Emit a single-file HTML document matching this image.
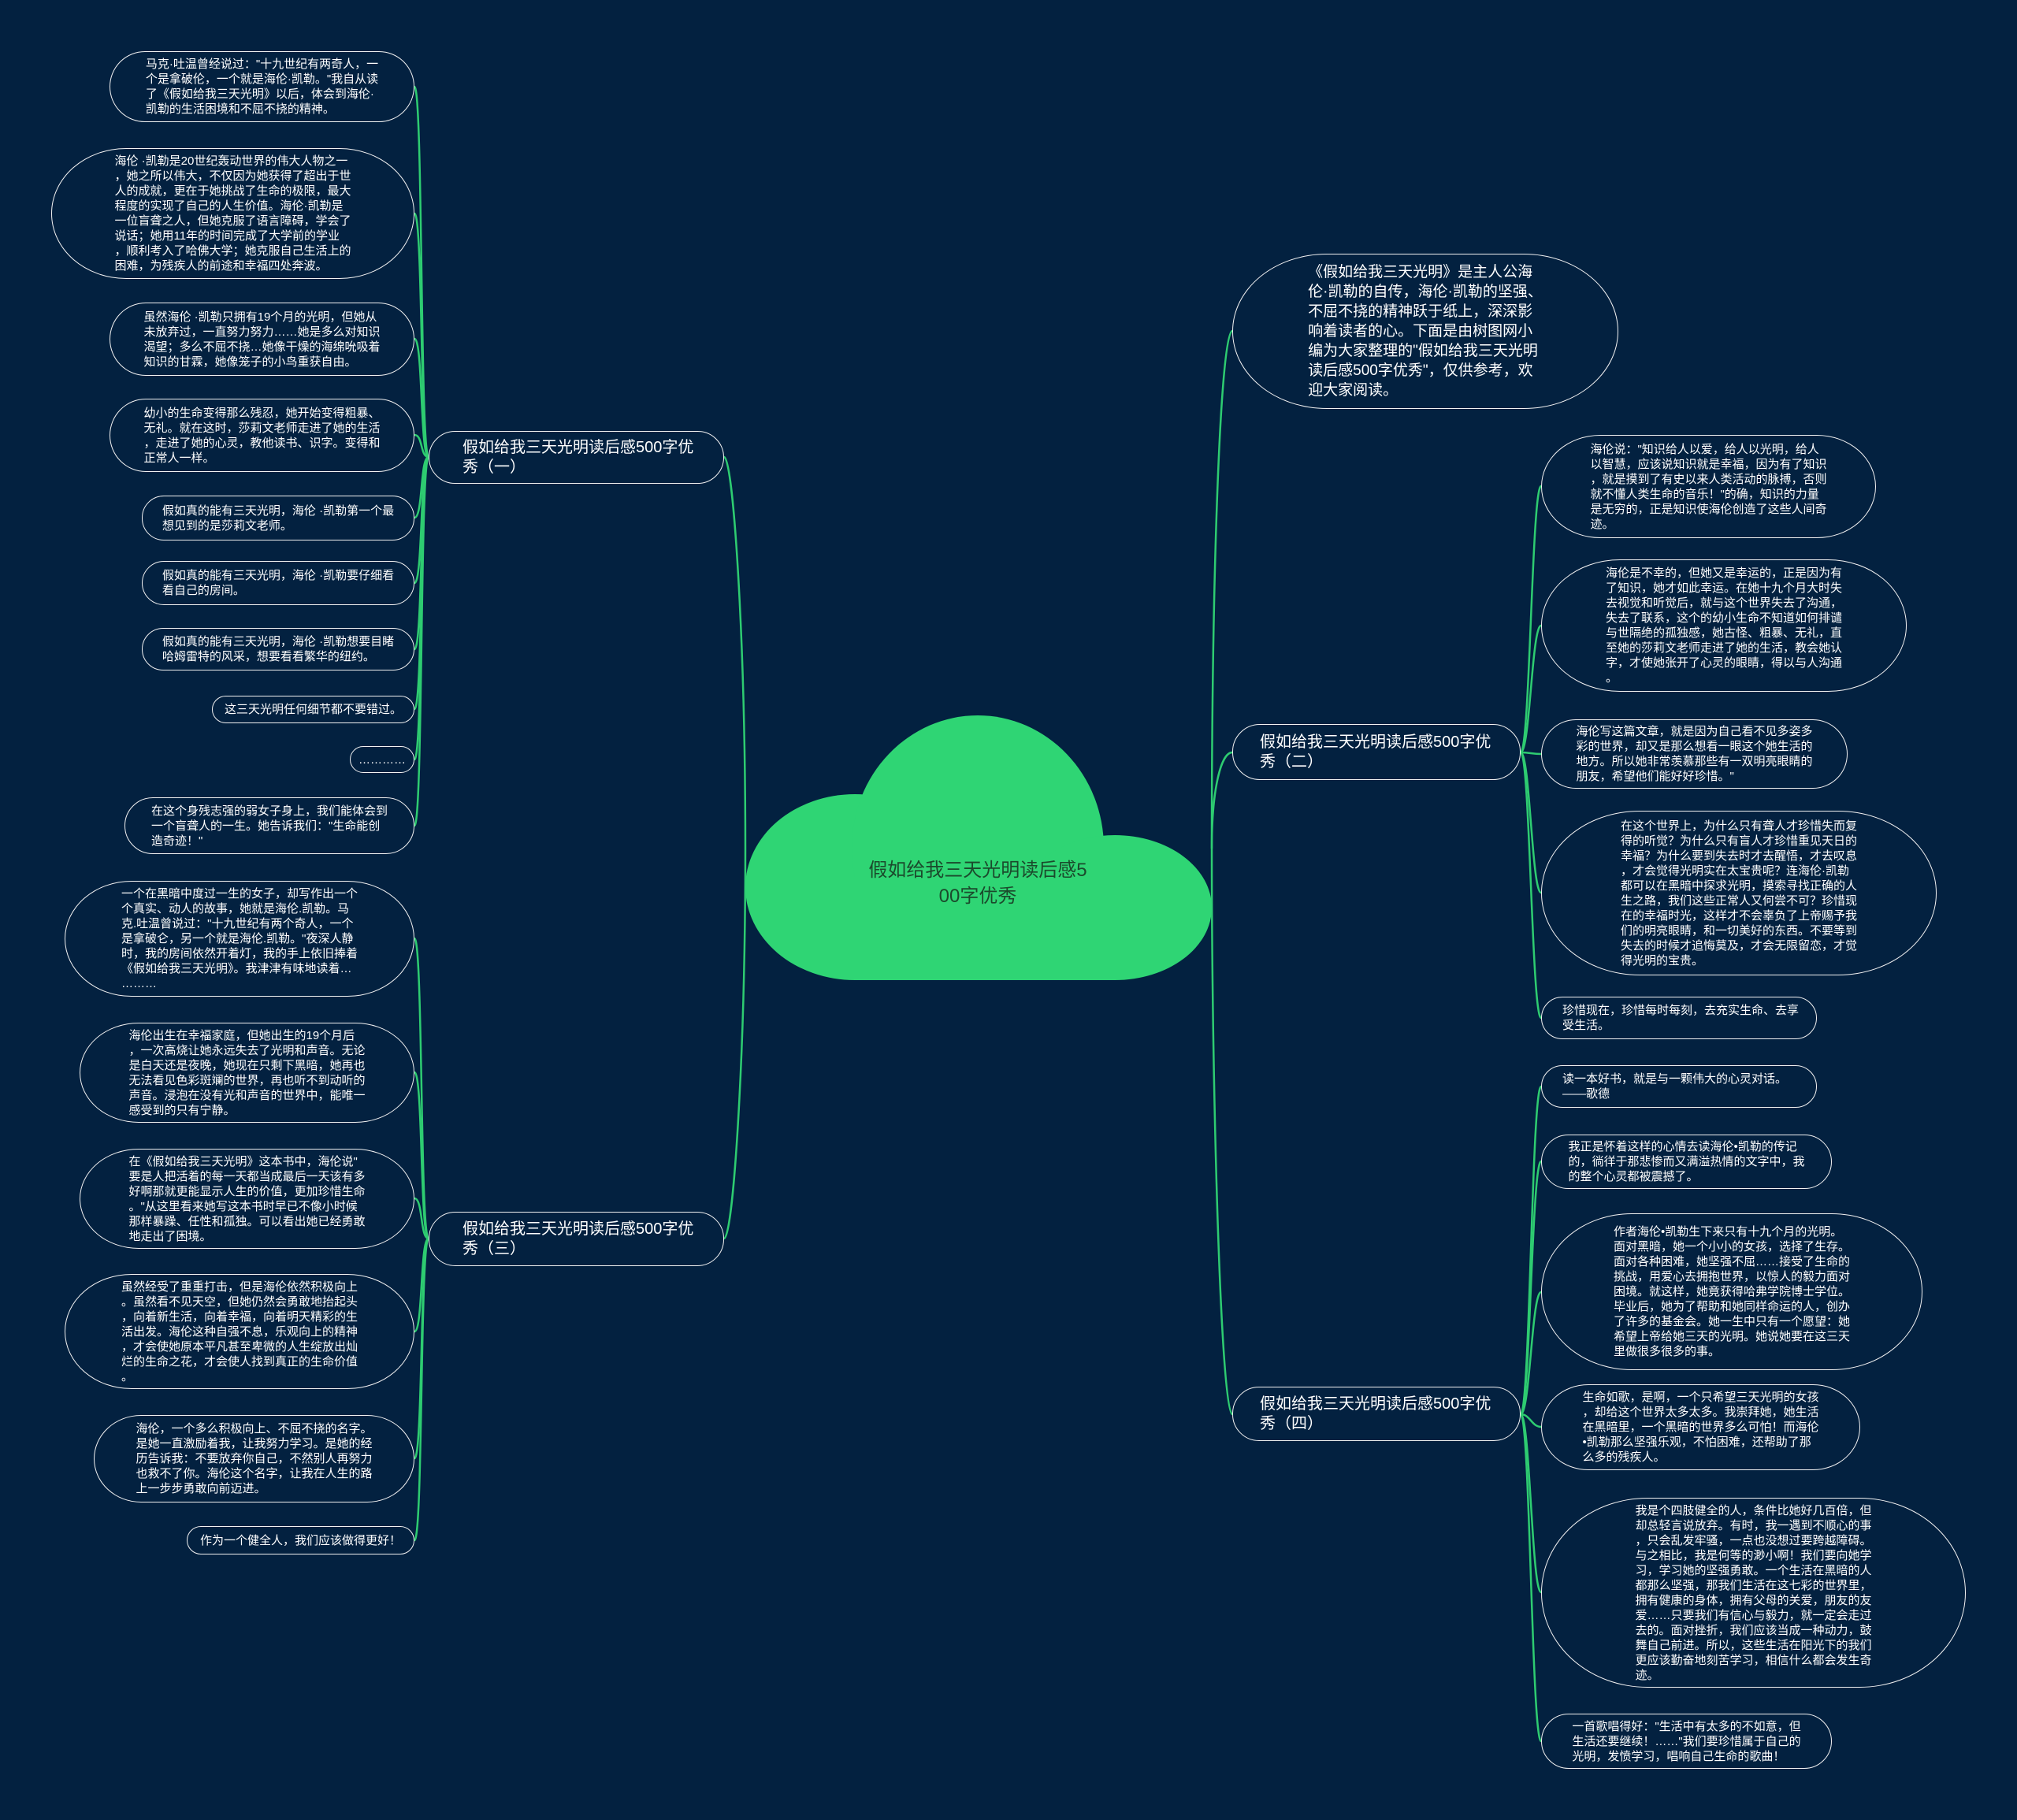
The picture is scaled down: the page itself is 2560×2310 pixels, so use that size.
<!DOCTYPE html>
<html><head><meta charset="utf-8"><style>
html,body{margin:0;padding:0}
body{width:2560px;height:2310px;background:#032140;position:relative;overflow:hidden;font-family:"Liberation Sans","Noto Sans CJK SC",sans-serif}
.n{position:absolute;box-sizing:border-box;border:1.5px solid #f2f2f2;display:flex;align-items:center;justify-content:center;color:#fff;background:#032140}
.n span{display:block;white-space:nowrap;text-align:left}
.l{font-size:15px;line-height:19px}
.b{font-size:20px;line-height:25px}
.i{font-size:19px;line-height:25px}
svg{position:absolute;left:0;top:0}
</style></head><body>
<svg width="2560" height="2310" viewBox="0 0 2560 2310">
<g fill="none" stroke="#2ecc71" stroke-width="2.5">
<path d="M946 1077 C946 800 930 580 919 580"/>
<path d="M946 1077 C946 1350 930 1572 919 1572"/>
<path d="M1538 1077 C1538 700 1550 420 1564 420"/>
<path d="M1538 1077 C1538 1000 1550 955 1564 955"/>
<path d="M1538 1077 C1538 1400 1550 1795 1564 1795"/>
<path d="M544 580 C533 580 537 110 526 110"/>
<path d="M544 580 C533 580 537 271 526 271"/>
<path d="M544 580 C533 580 537 430 526 430"/>
<path d="M544 580 C533 580 537 552 526 552"/>
<path d="M544 580 C533 580 537 657 526 657"/>
<path d="M544 580 C533 580 537 740 526 740"/>
<path d="M544 580 C533 580 537 824 526 824"/>
<path d="M544 580 C533 580 537 900 526 900"/>
<path d="M544 580 C533 580 537 964 526 964"/>
<path d="M544 580 C533 580 537 1048 526 1048"/>
<path d="M544 1572 C533 1572 537 1191 526 1191"/>
<path d="M544 1572 C533 1572 537 1361 526 1361"/>
<path d="M544 1572 C533 1572 537 1521 526 1521"/>
<path d="M544 1572 C533 1572 537 1690 526 1690"/>
<path d="M544 1572 C533 1572 537 1851 526 1851"/>
<path d="M544 1572 C533 1572 537 1955 526 1955"/>
<path d="M1930 955 C1942 955 1944 617 1956 617"/>
<path d="M1930 955 C1942 955 1944 794 1956 794"/>
<path d="M1930 955 C1942 955 1944 957 1956 957"/>
<path d="M1930 955 C1942 955 1944 1133 1956 1133"/>
<path d="M1930 955 C1942 955 1944 1292 1956 1292"/>
<path d="M1930 1795 C1942 1795 1944 1379 1956 1379"/>
<path d="M1930 1795 C1942 1795 1944 1474 1956 1474"/>
<path d="M1930 1795 C1942 1795 1944 1640 1956 1640"/>
<path d="M1930 1795 C1942 1795 1944 1811 1956 1811"/>
<path d="M1930 1795 C1942 1795 1944 2021 1956 2021"/>
<path d="M1930 1795 C1942 1795 1944 2210 1956 2210"/>
</g>
<g fill="#2fd574" stroke="none">
<ellipse cx="1085" cy="1126" rx="139" ry="118"/>
<ellipse cx="1241" cy="1076" rx="160" ry="168"/>
<ellipse cx="1415" cy="1152" rx="123" ry="92"/>
<rect x="1085" y="1100" width="330" height="144"/>
</g>
<text x="1241" y="1112" text-anchor="middle" font-size="24" fill="#1b4a2c" font-family="Liberation Sans, Noto Sans CJK SC, sans-serif">假如给我三天光明读后感5</text>
<text x="1241" y="1145" text-anchor="middle" font-size="24" fill="#1b4a2c" font-family="Liberation Sans, Noto Sans CJK SC, sans-serif">00字优秀</text>
</svg>

<div class="n b" style="left:544px;top:547px;width:375px;height:67px;border-radius:34px;justify-content:flex-start;padding-left:42px"><span>假如给我三天光明读后感500字优<br>秀（一）</span></div>
<div class="n l" style="left:139px;top:65px;width:387px;height:90px;border-radius:45px/50%"><span>马克·吐温曾经说过："十九世纪有两奇人，一<br>个是拿破伦，一个就是海伦·凯勒。"我自从读<br>了《假如给我三天光明》以后，体会到海伦·<br>凯勒的生活困境和不屈不挠的精神。</span></div>
<div class="n l" style="left:65px;top:188px;width:461px;height:166px;border-radius:95px/50%"><span>海伦 ·凯勒是20世纪轰动世界的伟大人物之一<br>，她之所以伟大，不仅因为她获得了超出于世<br>人的成就，更在于她挑战了生命的极限，最大<br>程度的实现了自己的人生价值。海伦·凯勒是<br>一位盲聋之人，但她克服了语言障碍，学会了<br>说话；她用11年的时间完成了大学前的学业<br>，顺利考入了哈佛大学；她克服自己生活上的<br>困难，为残疾人的前途和幸福四处奔波。</span></div>
<div class="n l" style="left:139px;top:384px;width:387px;height:93px;border-radius:46px/50%"><span>虽然海伦 ·凯勒只拥有19个月的光明，但她从<br>未放弃过，一直努力努力……她是多么对知识<br>渴望；多么不屈不挠…她像干燥的海绵吮吸着<br>知识的甘霖，她像笼子的小鸟重获自由。</span></div>
<div class="n l" style="left:139px;top:506px;width:387px;height:93px;border-radius:46px/50%"><span>幼小的生命变得那么残忍，她开始变得粗暴、<br>无礼。就在这时，莎莉文老师走进了她的生活<br>，走进了她的心灵，教他读书、识字。变得和<br>正常人一样。</span></div>
<div class="n l" style="left:180px;top:629px;width:346px;height:57px;border-radius:28px"><span>假如真的能有三天光明，海伦 ·凯勒第一个最<br>想见到的是莎莉文老师。</span></div>
<div class="n l" style="left:180px;top:712px;width:346px;height:56px;border-radius:28px"><span>假如真的能有三天光明，海伦 ·凯勒要仔细看<br>看自己的房间。</span></div>
<div class="n l" style="left:180px;top:797px;width:346px;height:54px;border-radius:27px"><span>假如真的能有三天光明，海伦 ·凯勒想要目睹<br>哈姆雷特的风采，想要看看繁华的纽约。</span></div>
<div class="n l" style="left:269px;top:883px;width:257px;height:35px;border-radius:18px"><span>这三天光明任何细节都不要错过。</span></div>
<div class="n l" style="left:444px;top:947px;width:82px;height:34px;border-radius:17px"><span>…………</span></div>
<div class="n l" style="left:158px;top:1012px;width:368px;height:72px;border-radius:36px/50%"><span>在这个身残志强的弱女子身上，我们能体会到<br>一个盲聋人的一生。她告诉我们："生命能创<br>造奇迹！"</span></div>

<div class="n b" style="left:544px;top:1538px;width:375px;height:69px;border-radius:34px;justify-content:flex-start;padding-left:42px"><span>假如给我三天光明读后感500字优<br>秀（三）</span></div>
<div class="n l" style="left:82px;top:1118px;width:444px;height:147px;border-radius:85px/50%"><span>一个在黑暗中度过一生的女子，却写作出一个<br>个真实、动人的故事，她就是海伦.凯勒。马<br>克.吐温曾说过："十九世纪有两个奇人，一个<br>是拿破仑，另一个就是海伦.凯勒。"夜深人静<br>时，我的房间依然开着灯，我的手上依旧捧着<br>《假如给我三天光明》。我津津有味地读着…<br>………</span></div>
<div class="n l" style="left:101px;top:1298px;width:425px;height:127px;border-radius:75px/50%"><span>海伦出生在幸福家庭，但她出生的19个月后<br>，一次高烧让她永远失去了光明和声音。无论<br>是白天还是夜晚，她现在只剩下黑暗，她再也<br>无法看见色彩斑斓的世界，再也听不到动听的<br>声音。浸泡在没有光和声音的世界中，能唯一<br>感受到的只有宁静。</span></div>
<div class="n l" style="left:101px;top:1458px;width:425px;height:127px;border-radius:75px/50%"><span>在《假如给我三天光明》这本书中，海伦说"<br>要是人把活着的每一天都当成最后一天该有多<br>好啊那就更能显示人生的价值，更加珍惜生命<br>。"从这里看来她写这本书时早已不像小时候<br>那样暴躁、任性和孤独。可以看出她已经勇敢<br>地走出了困境。</span></div>
<div class="n l" style="left:82px;top:1617px;width:444px;height:146px;border-radius:85px/50%"><span>虽然经受了重重打击，但是海伦依然积极向上<br>。虽然看不见天空，但她仍然会勇敢地抬起头<br>，向着新生活，向着幸福，向着明天精彩的生<br>活出发。海伦这种自强不息，乐观向上的精神<br>，才会使她原本平凡甚至卑微的人生绽放出灿<br>烂的生命之花，才会使人找到真正的生命价值<br>。</span></div>
<div class="n l" style="left:119px;top:1796px;width:407px;height:111px;border-radius:60px/50%"><span>海伦，一个多么积极向上、不屈不挠的名字。<br>是她一直激励着我，让我努力学习。是她的经<br>历告诉我：不要放弃你自己，不然别人再努力<br>也救不了你。海伦这个名字，让我在人生的路<br>上一步步勇敢向前迈进。</span></div>
<div class="n l" style="left:237px;top:1937px;width:289px;height:36px;border-radius:18px"><span>作为一个健全人，我们应该做得更好！</span></div>

<div class="n i" style="left:1564px;top:322px;width:490px;height:197px;border-radius:120px/50%"><span>《假如给我三天光明》是主人公海<br>伦·凯勒的自传，海伦·凯勒的坚强、<br>不屈不挠的精神跃于纸上，深深影<br>响着读者的心。下面是由树图网小<br>编为大家整理的"假如给我三天光明<br>读后感500字优秀"，仅供参考，欢<br>迎大家阅读。</span></div>

<div class="n b" style="left:1564px;top:919px;width:366px;height:71px;border-radius:35px;justify-content:flex-start;padding-left:34px"><span>假如给我三天光明读后感500字优<br>秀（二）</span></div>
<div class="n l" style="left:1956px;top:552px;width:425px;height:131px;border-radius:75px/50%"><span>海伦说："知识给人以爱，给人以光明，给人<br>以智慧，应该说知识就是幸福，因为有了知识<br>，就是摸到了有史以来人类活动的脉搏，否则<br>就不懂人类生命的音乐！"的确，知识的力量<br>是无穷的，正是知识使海伦创造了这些人间奇<br>迹。</span></div>
<div class="n l" style="left:1956px;top:710px;width:464px;height:168px;border-radius:100px/50%"><span>海伦是不幸的，但她又是幸运的，正是因为有<br>了知识，她才如此幸运。在她十九个月大时失<br>去视觉和听觉后，就与这个世界失去了沟通，<br>失去了联系，这个的幼小生命不知道如何排谴<br>与世隔绝的孤独感，她古怪、粗暴、无礼，直<br>至她的莎莉文老师走进了她的生活，教会她认<br>字，才使她张开了心灵的眼睛，得以与人沟通<br>。</span></div>
<div class="n l" style="left:1956px;top:913px;width:389px;height:88px;border-radius:44px/50%"><span>海伦写这篇文章，就是因为自己看不见多姿多<br>彩的世界，却又是那么想看一眼这个她生活的<br>地方。所以她非常羡慕那些有一双明亮眼睛的<br>朋友，希望他们能好好珍惜。"</span></div>
<div class="n l" style="left:1956px;top:1029px;width:502px;height:209px;border-radius:125px/50%"><span>在这个世界上，为什么只有聋人才珍惜失而复<br>得的听觉？为什么只有盲人才珍惜重见天日的<br>幸福？为什么要到失去时才去醒悟，才去叹息<br>，才会觉得光明实在太宝贵呢？连海伦·凯勒<br>都可以在黑暗中探求光明，摸索寻找正确的人<br>生之路，我们这些正常人又何尝不可？珍惜现<br>在的幸福时光，这样才不会辜负了上帝赐予我<br>们的明亮眼睛，和一切美好的东西。不要等到<br>失去的时候才追悔莫及，才会无限留恋，才觉<br>得光明的宝贵。</span></div>
<div class="n l" style="left:1956px;top:1265px;width:350px;height:54px;border-radius:27px;justify-content:flex-start;padding-left:26px"><span>珍惜现在，珍惜每时每刻，去充实生命、去享<br>受生活。</span></div>

<div class="n b" style="left:1564px;top:1760px;width:366px;height:69px;border-radius:34px;justify-content:flex-start;padding-left:34px"><span>假如给我三天光明读后感500字优<br>秀（四）</span></div>
<div class="n l" style="left:1956px;top:1352px;width:350px;height:54px;border-radius:27px;justify-content:flex-start;padding-left:26px"><span>读一本好书，就是与一颗伟大的心灵对话。<br>——歌德</span></div>
<div class="n l" style="left:1956px;top:1440px;width:369px;height:69px;border-radius:35px"><span>我正是怀着这样的心情去读海伦•凯勒的传记<br>的，徜徉于那悲惨而又满溢热情的文字中，我<br>的整个心灵都被震撼了。</span></div>
<div class="n l" style="left:1956px;top:1540px;width:484px;height:199px;border-radius:115px/50%"><span>作者海伦•凯勒生下来只有十九个月的光明。<br>面对黑暗，她一个小小的女孩，选择了生存。<br>面对各种困难，她坚强不屈……接受了生命的<br>挑战，用爱心去拥抱世界，以惊人的毅力面对<br>困境。就这样，她竟获得哈弗学院博士学位。<br>毕业后，她为了帮助和她同样命运的人，创办<br>了许多的基金会。她一生中只有一个愿望：她<br>希望上帝给她三天的光明。她说她要在这三天<br>里做很多很多的事。</span></div>
<div class="n l" style="left:1956px;top:1757px;width:405px;height:109px;border-radius:60px/50%"><span>生命如歌，是啊，一个只希望三天光明的女孩<br>，却给这个世界太多太多。我崇拜她，她生活<br>在黑暗里，一个黑暗的世界多么可怕！而海伦<br>•凯勒那么坚强乐观，不怕困难，还帮助了那<br>么多的残疾人。</span></div>
<div class="n l" style="left:1956px;top:1901px;width:539px;height:241px;border-radius:135px/50%"><span>我是个四肢健全的人，条件比她好几百倍，但<br>却总轻言说放弃。有时，我一遇到不顺心的事<br>，只会乱发牢骚，一点也没想过要跨越障碍。<br>与之相比，我是何等的渺小啊！我们要向她学<br>习，学习她的坚强勇敢。一个生活在黑暗的人<br>都那么坚强，那我们生活在这七彩的世界里，<br>拥有健康的身体，拥有父母的关爱，朋友的友<br>爱……只要我们有信心与毅力，就一定会走过<br>去的。面对挫折，我们应该当成一种动力，鼓<br>舞自己前进。所以，这些生活在阳光下的我们<br>更应该勤奋地刻苦学习，相信什么都会发生奇<br>迹。</span></div>
<div class="n l" style="left:1956px;top:2175px;width:369px;height:70px;border-radius:35px"><span>一首歌唱得好："生活中有太多的不如意，但<br>生活还要继续！……"我们要珍惜属于自己的<br>光明，发愤学习，唱响自己生命的歌曲！</span></div>
</body></html>
